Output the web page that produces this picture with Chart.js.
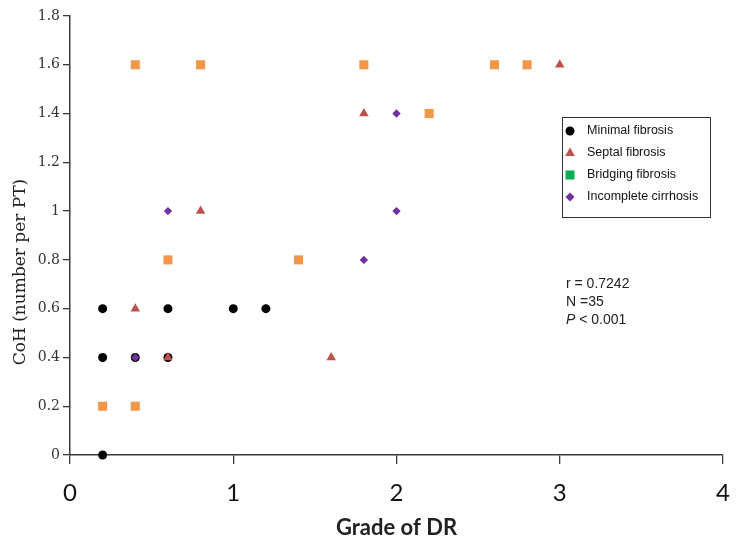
<!DOCTYPE html>
<html>
<head>
<meta charset="utf-8">
<script src="https://cdn.jsdelivr.net/npm/chart.js@4.4.1/dist/chart.umd.min.js"></script>
<style>
    html, body { margin: 0; padding: 0; background: #fff; }
    #wrap { width: 737px; height: 537px; }
</style>
</head>
<body>
<div id="wrap"><canvas id="chart" width="737" height="537"></canvas></div>
<script>
// values: [grade of DR, CoH]
const minimalFibrosis = [[0.2, 0], [0.2, 0.4], [0.2, 0.6], [0.4, 0.4], [0.6, 0.4], [0.6, 0.6], [1.0, 0.6], [1.2, 0.6]];
const septalFibrosis = [[0.4, 0.6], [0.6, 0.4], [0.8, 1.0], [1.6, 0.4], [1.8, 1.4], [3.0, 1.6]];
const bridgingFibrosis = [[0.2, 0.2], [0.4, 0.2], [0.6, 0.8], [1.4, 0.8], [0.4, 1.6], [0.8, 1.6], [1.8, 1.6], [2.2, 1.4], [2.6, 1.6], [2.8, 1.6]];
const incompleteCirrhosis = [[0.4, 0.4], [0.6, 1.0], [1.8, 0.8], [2.0, 1.0], [2.0, 1.4]];

const seriesNames = ['Minimal fibrosis', 'Septal fibrosis', 'Bridging fibrosis', 'Incomplete cirrhosis'];
const yTickLabels = ['0', '0.2', '0.4', '0.6', '0.8', '1', '1.2', '1.4', '1.6', '1.8'];
const xTickLabels = ['0', '1', '2', '3', '4'];
const statsLines = ['r = 0.7242', 'N =35', '< 0.001'];

const axisColor = '#3a3a3a';
const markerColors = ['#000000', '#c0504d', '#f2964a', '#7030a0'];
const legendColors = ['#000000', '#c0504d', '#00b050', '#7030a0'];

const toPoints = (arr) => arr.map(([x, y]) => ({ x, y }));

function drawMarker(ctx, kind, x, y, color) {
    ctx.fillStyle = color;
    ctx.beginPath();
    if (kind === 'circle') {
        ctx.arc(x, y, 4.5, 0, Math.PI * 2);
    } else if (kind === 'triangle') {
        ctx.moveTo(x, y - 5.5);
        ctx.lineTo(x + 4.8, y + 3);
        ctx.lineTo(x - 4.8, y + 3);
        ctx.closePath();
    } else if (kind === 'rect') {
        ctx.rect(x - 4.5, y - 4.5, 9, 9);
    } else {
        ctx.moveTo(x, y - 4.5);
        ctx.lineTo(x + 4.5, y);
        ctx.lineTo(x, y + 4.5);
        ctx.lineTo(x - 4.5, y);
        ctx.closePath();
    }
    ctx.fill();
}

const overlay = {
    id: 'overlay',
    afterDraw(chart) {
        const ctx = chart.ctx;

        // y axis title, sits a bit below the middle like the original
        ctx.save();
        ctx.translate(21, 272);
        ctx.rotate(-Math.PI / 2);
        ctx.font = '17px "DejaVu Serif"';
        ctx.fillStyle = '#222';
        ctx.textAlign = 'center';
        ctx.textBaseline = 'middle';
        ctx.fillText('CoH (number per PT)', 0, 0);
        ctx.restore();

        // legend box
        ctx.save();
        ctx.strokeStyle = '#333';
        ctx.lineWidth = 1;
        ctx.strokeRect(562.5, 117.5, 148, 100);
        const kinds = ['circle', 'triangle', 'rect', 'rectRot'];
        ctx.font = '12.5px "Liberation Sans"';
        ctx.textBaseline = 'middle';
        ctx.textAlign = 'left';
        seriesNames.forEach((name, i) => {
            const y = 131 + i * 22;
            drawMarker(ctx, kinds[i], 570, y, legendColors[i]);
            ctx.fillStyle = '#111';
            ctx.fillText(name, 587, y);
        });
        ctx.restore();

        // stats
        ctx.save();
        ctx.font = '14px "Liberation Sans"';
        ctx.fillStyle = '#222';
        ctx.textBaseline = 'middle';
        ctx.fillText(statsLines[0], 566, 284);
        ctx.fillText(statsLines[1], 566, 302);
        ctx.font = 'italic 14px "Liberation Sans"';
        ctx.fillText('P', 566, 320);
        const pw = ctx.measureText('P ').width;
        ctx.font = '14px "Liberation Sans"';
        ctx.fillText(statsLines[2], 566 + pw, 320);
        ctx.restore();
    },
};

const makeSet = (label, data, style, radius, color, order) => ({
    label,
    data: toPoints(data),
    pointStyle: style,
    pointRadius: radius,
    pointHoverRadius: radius,
    pointBackgroundColor: color,
    pointBorderWidth: 0,
    borderColor: color,
    backgroundColor: color,
    order,
    clip: false,
});

new Chart(document.getElementById('chart'), {
    type: 'scatter',
    data: {
        datasets: [
            makeSet(seriesNames[0], minimalFibrosis, 'circle', 4.5, markerColors[0], 4),
            makeSet(seriesNames[1], septalFibrosis, 'triangle', 5.5, markerColors[1], 3),
            makeSet(seriesNames[2], bridgingFibrosis, 'rect', 6.4, markerColors[2], 2),
            makeSet(seriesNames[3], incompleteCirrhosis, 'rectRot', 4.2, markerColors[3], 1),
        ],
    },
    options: {
        responsive: false,
        animation: false,
        layout: { padding: { top: 16, right: 14, left: 0, bottom: 0 } },
        plugins: { legend: { display: false }, tooltip: { enabled: false } },
        scales: {
            x: {
                type: 'linear',
                min: 0,
                max: 4,
                afterFit: (s) => {
                    s.height = 82;
                    s.paddingLeft = 0;
                    s.paddingRight = 0;
                },
                afterBuildTicks: (s) => { s.ticks = xTickLabels.map((t) => ({ value: Number(t) })); },
                ticks: {
                    callback: (v) => xTickLabels[Math.round(v)],
                    font: { family: 'Lato', size: 24 },
                    color: '#111',
                    padding: 15,
                    maxRotation: 0,
                },
                grid: { drawOnChartArea: false, drawTicks: true, tickLength: 9, color: axisColor, lineWidth: 1.3 },
                border: { display: true, color: axisColor, width: 1.5 },
                title: {
                    display: true,
                    text: 'Grade of DR',
                    font: { family: 'Lato', size: 22, weight: 'bold', lineHeight: 1 },
                    color: '#222',
                    padding: { top: 0, bottom: -2 },
                },
            },
            y: {
                type: 'linear',
                min: 0,
                max: 1.8,
                afterFit: (s) => {
                    s.width = 70;
                    s.paddingTop = 0;
                    s.paddingBottom = 0;
                },
                afterBuildTicks: (s) => { s.ticks = yTickLabels.map((t) => ({ value: Number(t) })); },
                ticks: {
                    callback: (v) => yTickLabels[Math.round(v * 5)],
                    font: { family: 'DejaVu Serif', size: 14 },
                    color: '#333',
                    padding: 3,
                },
                grid: { drawOnChartArea: false, drawTicks: true, tickLength: 7, color: axisColor, lineWidth: 1.3 },
                border: { display: true, color: axisColor, width: 1.5 },
            },
        },
    },
    plugins: [overlay],
});
</script>
</body>
</html>
